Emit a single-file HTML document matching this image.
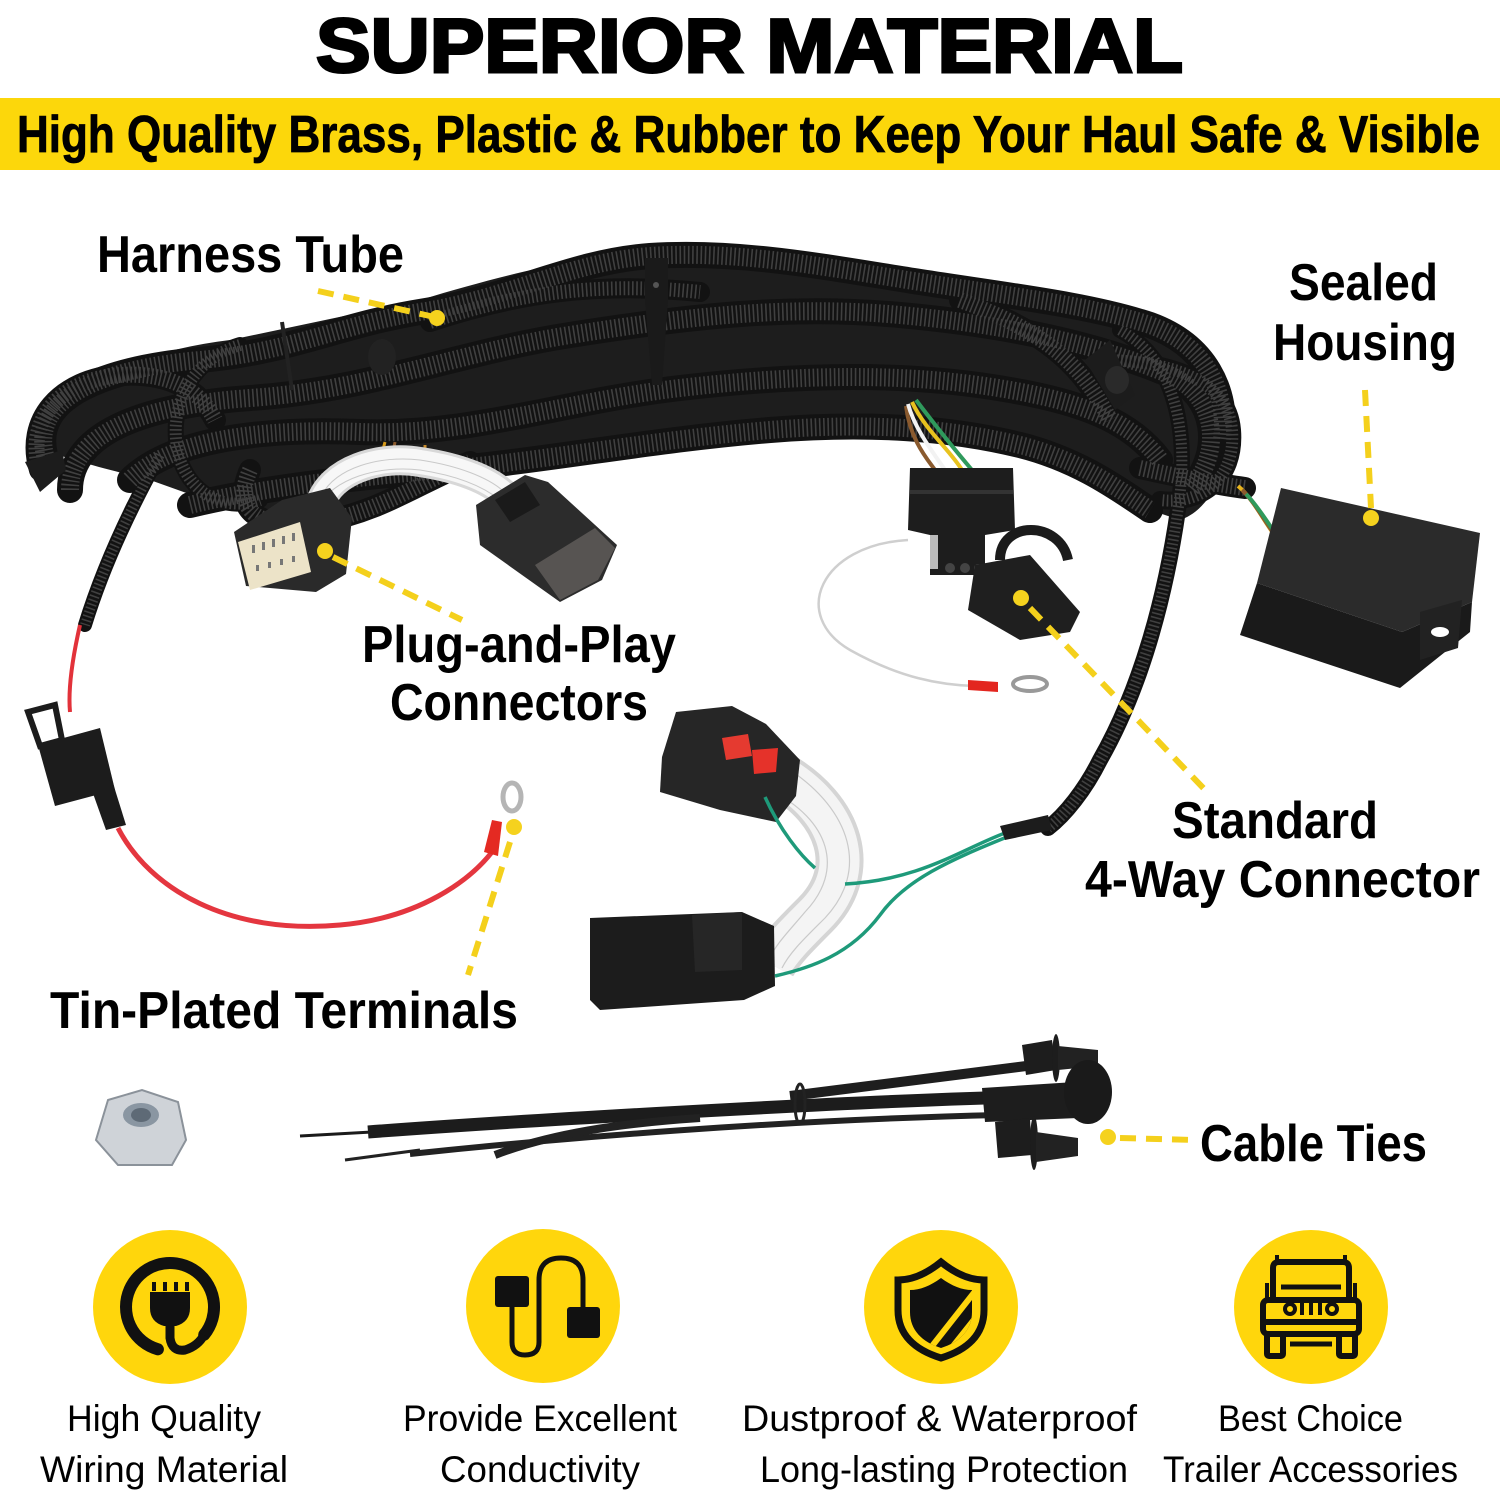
<!DOCTYPE html>
<html><head><meta charset="utf-8">
<style>
html,body{margin:0;padding:0;background:#fff;}
svg{display:block;}
.lbl{font-family:"Liberation Sans",sans-serif;font-weight:bold;fill:#000;}
.bt{font-family:"Liberation Sans",sans-serif;font-weight:normal;fill:#000;}
</style></head>
<body>
<svg width="1500" height="1500" viewBox="0 0 1500 1500" xmlns="http://www.w3.org/2000/svg">
<defs>
<path id="p1" d="M 45 455 C 30 395, 110 368, 200 360 C 290 352, 340 325, 420 312 C 510 298, 570 262, 650 256 C 740 250, 830 268, 920 282 C 1010 296, 1090 305, 1150 325 C 1205 345, 1228 390, 1222 440"/>
<path id="p2" d="M 70 490 C 70 430, 150 405, 250 398 C 370 390, 460 352, 570 335 C 690 316, 790 305, 900 315 C 1010 325, 1100 345, 1170 375 C 1215 395, 1225 450, 1190 490"/>
<path id="p3" d="M 130 480 C 170 440, 260 428, 360 432 C 470 436, 560 402, 680 388 C 800 374, 910 372, 1010 390 C 1080 402, 1130 420, 1160 460"/>
<path id="p4" d="M 190 505 C 260 488, 350 478, 440 470 C 550 460, 650 440, 770 430 C 870 422, 950 428, 1020 445 C 1080 460, 1120 490, 1150 510"/>
<path id="p5" d="M 250 470 C 230 515, 265 530, 320 522 C 380 512, 420 482, 470 462"/>
<path id="p6" d="M 240 345 C 190 360, 165 410, 180 460 C 195 500, 230 510, 260 500"/>
<path id="p7" d="M 160 455 C 135 500, 105 560, 85 625"/>
<path id="p8" d="M 1120 330 C 1175 360, 1190 430, 1178 510 C 1165 600, 1140 690, 1100 760 C 1085 790, 1065 815, 1048 828"/>
<path id="p9" d="M 1100 360 C 1170 360, 1228 380, 1232 430 C 1236 480, 1200 505, 1160 500"/>
<path id="p10" d="M 1140 468 C 1185 478, 1215 484, 1245 488"/>
<path id="p11" d="M 40 470 C 25 420, 60 380, 120 375 C 170 372, 200 390, 215 420"/>
<path id="p12" d="M 430 322 C 520 292, 600 282, 700 292"/>
<path id="p13" d="M 960 300 C 1040 330, 1080 360, 1110 420"/>
</defs>

<!-- Title -->
<text x="316" y="72" class="lbl" font-size="76" font-weight="900" stroke="#000" stroke-width="3" textLength="867" lengthAdjust="spacingAndGlyphs">SUPERIOR MATERIAL</text>
<rect x="0" y="98" width="1500" height="72" fill="#FCD70B"/>
<text x="17" y="152" class="lbl" font-size="52" stroke="#000" stroke-width="0.8" textLength="1463" lengthAdjust="spacingAndGlyphs">High Quality Brass, Plastic &amp; Rubber to Keep Your Haul Safe &amp; Visible</text>

<!-- Harness base mass -->
<path d="M 40 420 C 60 380 150 350 230 340 L 420 300 C 520 270 600 252 660 252 C 760 252 860 270 960 290 L 1120 318 C 1190 335 1225 370 1228 420 C 1230 470 1210 510 1180 520 L 1120 500 C 1080 470 1040 440 1000 435 L 880 420 C 800 425 720 430 640 440 C 560 450 480 452 420 480 L 340 520 C 300 525 260 520 220 505 L 150 480 C 110 470 70 460 45 450 Z" fill="#1d1d1d"/>

<!-- tubes base -->
<g fill="none" stroke="#121212" stroke-linecap="round">
<use href="#p11" stroke-width="22"/>
<use href="#p1" stroke-width="26"/>
<use href="#p2" stroke-width="26"/>
<use href="#p3" stroke-width="26"/>
<use href="#p4" stroke-width="26"/>
<use href="#p12" stroke-width="20"/>
<use href="#p13" stroke-width="22"/>
<use href="#p5" stroke-width="22"/>
<use href="#p6" stroke-width="16"/>
<use href="#p7" stroke-width="14"/>
<use href="#p9" stroke-width="18"/>
<use href="#p10" stroke-width="22"/>
<use href="#p8" stroke-width="16"/>
</g>
<!-- ribs -->
<g fill="none" stroke="#404040" stroke-dasharray="1.6 2.6">
<use href="#p11" stroke-width="16"/>
<use href="#p1" stroke-width="18"/>
<use href="#p2" stroke-width="18"/>
<use href="#p3" stroke-width="18"/>
<use href="#p4" stroke-width="18"/>
<use href="#p12" stroke-width="14"/>
<use href="#p13" stroke-width="16"/>
<use href="#p5" stroke-width="16"/>
<use href="#p6" stroke-width="12"/>
<use href="#p7" stroke-width="10"/>
<use href="#p9" stroke-width="12"/>
<use href="#p10" stroke-width="16"/>
<use href="#p8" stroke-width="11"/>
</g>

<!-- clips/straps on harness -->
<path d="M 645 258 L 668 258 L 668 300 L 662 385 L 652 385 L 645 300 Z" fill="#1a1a1a"/>
<circle cx="656" cy="285" r="3" fill="#555"/>
<ellipse cx="382" cy="357" rx="14" ry="18" fill="#222"/>
<path d="M 282 322 L 292 390" stroke="#222" stroke-width="4"/>
<path d="M 25 462 L 62 450 L 66 470 L 40 492 Z" fill="#1c1c1c"/>
<path d="M 1085 360 L 1110 340 L 1135 395 L 1115 410 Z" fill="#1c1c1c"/>
<ellipse cx="1117" cy="380" rx="12" ry="14" fill="#2a2a2a"/>

<!-- colored wires near 4-way -->
<g fill="none" stroke-width="4">
<path d="M 906 406 C 910 440, 928 460, 935 470" stroke="#8a5a2e"/>
<path d="M 908 404 C 915 430, 935 455, 945 470" stroke="#f2f2f2"/>
<path d="M 912 402 C 925 430, 950 450, 962 470" stroke="#e8c21e"/>
<path d="M 916 400 C 935 425, 955 450, 972 470" stroke="#2f9a5c"/>
</g>
<!-- wires to box -->
<g fill="none" stroke-width="4">
<path d="M 1238 486 C 1255 500, 1265 525, 1282 545" stroke="#e8b51e"/>
<path d="M 1242 490 C 1258 505, 1268 530, 1286 548" stroke="#8a5a2e"/>
<path d="M 1246 494 C 1262 510, 1272 533, 1290 550" stroke="#2f9a5c"/>
</g>
<!-- wires near left connector -->
<g fill="none" stroke-width="3">
<path d="M 385 442 L 378 468" stroke="#d69a1a"/>
<path d="M 395 442 L 390 468" stroke="#8a5a2e"/>
<path d="M 425 445 L 425 468" stroke="#c88a2a"/>
</g>
<!-- white wires arch -->
<path d="M 320 505 C 330 470, 380 455, 420 462 C 460 468, 490 480, 505 495" fill="none" stroke="#d8d8d8" stroke-width="30"/>
<path d="M 320 505 C 330 470, 380 455, 420 462 C 460 468, 490 480, 505 495" fill="none" stroke="#f7f7f7" stroke-width="24"/>
<g fill="none" stroke="#c9c9c9" stroke-width="1">
<path d="M 322 495 C 335 468, 380 455, 420 460 C 460 466, 488 478, 502 490"/>
<path d="M 318 508 C 332 478, 380 465, 420 470 C 460 476, 485 488, 500 500"/>
</g>

<!-- left 12-pin connector -->
<path d="M 234 532 L 282 500 L 330 488 L 352 518 L 346 574 L 316 592 L 246 586 Z" fill="#2a2a2a"/>
<path d="M 238 542 L 300 522 L 311 572 L 250 590 Z" fill="#ece3c8"/>
<g fill="#777">
<rect x="252" y="545" width="3" height="8"/><rect x="262" y="542" width="3" height="8"/><rect x="272" y="539" width="3" height="8"/><rect x="282" y="536" width="3" height="8"/><rect x="292" y="533" width="3" height="8"/>
<rect x="256" y="565" width="3" height="6"/><rect x="268" y="562" width="3" height="6"/><rect x="280" y="559" width="3" height="6"/><rect x="292" y="556" width="3" height="6"/>
</g>
<!-- plug -->
<path d="M 476 505 L 525 475 L 548 482 L 617 545 L 602 580 L 560 602 L 480 545 Z" fill="#2c2c2c"/>
<path d="M 535 565 L 595 528 L 615 548 L 598 580 L 560 600 Z" fill="#575452"/>
<path d="M 495 500 L 525 482 L 540 505 L 510 522 Z" fill="#1a1a1a"/>

<!-- 4-way plug -->
<path d="M 910 468 L 1013 468 L 1015 530 L 985 535 L 985 575 L 930 575 L 930 535 L 908 530 Z" fill="#1d1d1d"/>
<rect x="910" y="490" width="103" height="4" fill="#333"/>
<rect x="930" y="535" width="8" height="34" fill="#bbb"/>
<circle cx="950" cy="568" r="5" fill="#444"/><circle cx="965" cy="568" r="5" fill="#444"/><circle cx="978" cy="568" r="4" fill="#444"/>
<path d="M 1000 560 C 1000 520, 1060 520, 1068 560" fill="none" stroke="#1b1b1b" stroke-width="10"/>
<path d="M 975 565 L 1030 555 L 1080 612 L 1070 632 L 1020 640 L 968 610 Z" fill="#1f1f1f"/>
<!-- white thin wire loop -->
<path d="M 908 540 C 820 545, 790 615, 850 650 C 900 678, 940 685, 975 686" fill="none" stroke="#cfcfcf" stroke-width="2.5"/>
<path d="M 968 680 L 998 682 L 998 692 L 968 690 Z" fill="#e3261f"/>
<ellipse cx="1030" cy="684" rx="17" ry="7" fill="none" stroke="#999" stroke-width="4"/>

<!-- Sealed housing box -->
<path d="M 1281 488 L 1480 533 L 1472 602 L 1402 632 L 1257 583 Z" fill="#2b2b2b"/>
<path d="M 1257 583 L 1402 632 L 1472 602 L 1470 632 L 1400 688 L 1240 635 Z" fill="#1a1a1a"/>
<path d="M 1420 612 L 1462 600 L 1458 648 L 1420 660 Z" fill="#222"/>
<ellipse cx="1440" cy="632" rx="9" ry="5" fill="#fff"/>

<!-- red wire and fuse holder -->
<path d="M 80 625 C 72 660, 68 690, 70 712" fill="none" stroke="#e2323a" stroke-width="4"/>
<path d="M 28 712 L 55 705 L 62 740 L 40 746 Z" fill="none" stroke="#1c1c1c" stroke-width="6"/>
<path d="M 38 745 L 100 728 L 115 790 L 55 806 Z" fill="#1c1c1c"/>
<path d="M 90 785 L 112 780 L 126 825 L 106 830 Z" fill="#1c1c1c"/>
<path d="M 118 828 C 150 890, 230 935, 340 925 C 420 918, 470 880, 492 852" fill="none" stroke="#e4363f" stroke-width="5"/>
<path d="M 484 852 L 492 820 L 502 822 L 498 856 Z" fill="#e42a22"/>
<ellipse cx="512" cy="797" rx="9" ry="14" fill="none" stroke="#b5b5b5" stroke-width="5"/>

<!-- lower connectors -->
<path d="M 780 775 C 840 810, 860 870, 815 915 C 795 935, 780 950, 772 965" fill="none" stroke="#d5d5d5" stroke-width="48"/>
<path d="M 780 775 C 840 810, 860 870, 815 915 C 795 935, 780 950, 772 965" fill="none" stroke="#f4f4f4" stroke-width="40"/>
<g fill="none" stroke="#cacaca" stroke-width="1.2">
<path d="M 770 790 C 830 820, 845 870, 805 912 C 790 930, 775 945, 770 958"/>
<path d="M 790 770 C 850 810, 870 870, 825 918 C 805 938, 790 952, 782 968"/>
</g>
<path d="M 662 757 L 676 712 L 732 706 L 766 724 L 800 760 L 796 796 L 776 822 L 720 810 L 660 792 Z" fill="#262626"/>
<path d="M 722 738 L 748 734 L 752 756 L 726 760 Z" fill="#e53a30"/>
<path d="M 752 750 L 778 748 L 776 772 L 754 774 Z" fill="#e5322a"/>
<path d="M 590 918 L 742 912 L 774 926 L 775 986 L 744 1000 L 600 1010 L 590 1000 Z" fill="#1c1c1c"/>
<path d="M 692 915 L 742 912 L 742 970 L 695 972 Z" fill="#262626"/>
<!-- green wires -->
<g fill="none" stroke="#1e9a7a" stroke-width="3.5">
<path d="M 765 797 C 780 830, 800 855, 815 868"/>
<path d="M 1005 833 C 960 850, 920 880, 845 884"/>
<path d="M 1007 837 C 950 860, 905 880, 880 915 C 850 955, 810 968, 775 976"/>
</g>
<path d="M 1000 826 L 1048 815 L 1052 830 L 1005 840 Z" fill="#1c1c1c"/>

<!-- nut -->
<path d="M 108 1100 L 142 1090 L 178 1102 L 186 1140 L 172 1165 L 118 1165 L 96 1140 Z" fill="#cfd3d8" stroke="#8b929a" stroke-width="2"/>
<ellipse cx="141" cy="1115" rx="18" ry="12" fill="#8a96a2"/>
<ellipse cx="141" cy="1115" rx="10" ry="7" fill="#5e6a76"/>

<!-- cable ties -->
<path d="M 300 1136 L 372 1132" stroke="#1a1a1a" stroke-width="3"/>
<path d="M 368 1132 C 500 1122, 800 1104, 985 1098" fill="none" stroke="#1c1c1c" stroke-width="13"/>
<path d="M 790 1096 L 1042 1064" stroke="#1e1e1e" stroke-width="10"/>
<path d="M 410 1154 C 560 1138, 780 1120, 1000 1115" fill="none" stroke="#222" stroke-width="6"/>
<path d="M 345 1160 L 420 1150" stroke="#222" stroke-width="3"/>
<path d="M 495 1155 C 560 1130, 640 1122, 700 1118" fill="none" stroke="#222" stroke-width="8"/>
<ellipse cx="800" cy="1104" rx="5" ry="20" fill="none" stroke="#222" stroke-width="3"/>
<path d="M 982 1088 L 1075 1082 L 1078 1118 L 985 1122 Z" fill="#1d1d1d"/>
<path d="M 1022 1045 L 1052 1040 L 1056 1070 L 1026 1075 Z" fill="#1d1d1d"/>
<ellipse cx="1056" cy="1058" rx="4" ry="24" fill="#1d1d1d"/>
<path d="M 1058 1046 L 1098 1050 L 1098 1066 L 1058 1070 Z" fill="#222"/>
<ellipse cx="1088" cy="1092" rx="24" ry="32" fill="#1a1a1a"/>
<path d="M 995 1122 L 1030 1118 L 1032 1155 L 998 1158 Z" fill="#1d1d1d"/>
<ellipse cx="1034" cy="1143" rx="4" ry="27" fill="#1d1d1d"/>
<path d="M 1036 1132 L 1078 1138 L 1078 1156 L 1036 1162 Z" fill="#222"/>

<!-- dashed yellow pointers -->
<g stroke="#F4D01C" stroke-width="6" stroke-dasharray="16 10" fill="none">
<path d="M 318 291 L 430 316"/>
<path d="M 1365 390 L 1371 508"/>
<path d="M 333 557 L 462 620"/>
<path d="M 1030 608 L 1210 795"/>
<path d="M 510 842 L 468 975"/>
<path d="M 1120 1138 L 1195 1140"/>
</g>
<g fill="#F5D21E">
<circle cx="437" cy="318" r="8"/>
<circle cx="1371" cy="518" r="8"/>
<circle cx="325" cy="551" r="8"/>
<circle cx="1021" cy="598" r="8"/>
<circle cx="514" cy="827" r="8"/>
<circle cx="1108" cy="1137" r="8"/>
</g>

<!-- labels -->
<text x="97" y="272" class="lbl" font-size="52" textLength="307" lengthAdjust="spacingAndGlyphs">Harness Tube</text>
<text x="1289" y="300" class="lbl" font-size="52" textLength="149" lengthAdjust="spacingAndGlyphs">Sealed</text>
<text x="1273" y="360" class="lbl" font-size="52" textLength="184" lengthAdjust="spacingAndGlyphs">Housing</text>
<text x="362" y="662" class="lbl" font-size="52" textLength="314" lengthAdjust="spacingAndGlyphs">Plug-and-Play</text>
<text x="390" y="720" class="lbl" font-size="52" textLength="258" lengthAdjust="spacingAndGlyphs">Connectors</text>
<text x="1172" y="838" class="lbl" font-size="52" textLength="206" lengthAdjust="spacingAndGlyphs">Standard</text>
<text x="1085" y="897" class="lbl" font-size="52" textLength="395" lengthAdjust="spacingAndGlyphs">4-Way Connector</text>
<text x="50" y="1028" class="lbl" font-size="52" textLength="468" lengthAdjust="spacingAndGlyphs">Tin-Plated Terminals</text>
<text x="1200" y="1161" class="lbl" font-size="52" textLength="227" lengthAdjust="spacingAndGlyphs">Cable Ties</text>

<!-- icon circles -->
<g fill="#FFD60C">
<circle cx="170" cy="1307" r="77"/>
<circle cx="543" cy="1306" r="77"/>
<circle cx="941" cy="1307" r="77"/>
<circle cx="1311" cy="1307" r="77"/>
</g>

<!-- icon 1: plug -->
<path d="M 157.9 1349.3 A 44 44 0 1 1 204.2 1334.7" fill="none" stroke="#111" stroke-width="12" stroke-linecap="round"/>
<path d="M 150 1292 L 190 1292 L 190 1308 Q 190 1322 176 1326 L 164 1326 Q 150 1322 150 1308 Z" fill="#111"/>
<g fill="#111"><rect x="152" y="1282" width="4" height="9"/><rect x="163" y="1282" width="4" height="9"/><rect x="174" y="1282" width="4" height="9"/><rect x="185" y="1282" width="4" height="9"/></g>
<path d="M 170 1322 L 170 1338 Q 172 1352 185 1350 Q 198 1346 204 1335" fill="none" stroke="#111" stroke-width="9"/>

<!-- icon 2: conductivity -->
<rect x="495" y="1276" width="34" height="31" rx="3" fill="#111"/>
<rect x="567" y="1307" width="33" height="31" rx="3" fill="#111"/>
<path d="M 512 1306 L 512 1342 Q 512 1355 525 1355 Q 539 1355 539 1342 L 539 1280 Q 539 1258 561 1258 Q 583 1258 583 1280 L 583 1308" fill="none" stroke="#111" stroke-width="5"/>

<!-- icon 3: shield -->
<path d="M 941 1262 C 925 1275, 910 1280, 898 1280 L 898 1310 C 898 1335, 915 1350, 941 1358 C 967 1350, 984 1335, 984 1310 L 984 1280 C 972 1280, 957 1275, 941 1262 Z" fill="none" stroke="#111" stroke-width="7"/>
<clipPath id="sh"><path d="M 941 1278 C 930 1286, 920 1290, 910 1290 L 910 1312 C 910 1330, 922 1342, 941 1348 C 960 1342, 972 1330, 972 1312 L 972 1290 C 962 1290, 952 1286, 941 1278 Z"/></clipPath>
<g clip-path="url(#sh)">
<rect x="905" y="1275" width="72" height="78" fill="#111"/>
<path d="M 980 1285 L 925 1355" stroke="#FFD60C" stroke-width="6"/>
<path d="M 992 1297 L 942 1360" stroke="#FFD60C" stroke-width="6"/>
</g>

<!-- icon 4: jeep -->
<g fill="none" stroke="#111" stroke-width="6" stroke-linejoin="round">
<path d="M 1273 1300 L 1273 1268 Q 1273 1262 1279 1262 L 1343 1262 Q 1349 1262 1349 1268 L 1349 1300"/>
<rect x="1263" y="1300" width="96" height="34" rx="5"/>
<rect x="1267" y="1334" width="16" height="22" rx="2"/>
<rect x="1339" y="1334" width="16" height="22" rx="2"/>
<path d="M 1263 1322 L 1359 1322"/>
<circle cx="1290" cy="1309" r="5" stroke-width="4"/>
<circle cx="1332" cy="1309" r="5" stroke-width="4"/>
</g>
<g stroke="#111">
<path d="M 1281 1287 L 1341 1287" stroke-width="5"/>
<path d="M 1302 1303 L 1302 1315 M 1311 1303 L 1311 1315 M 1320 1303 L 1320 1315" stroke-width="4"/>
<path d="M 1267 1283 L 1267 1298 M 1355 1283 L 1355 1298" stroke-width="4"/>
<path d="M 1277 1262 L 1277 1255 M 1345 1262 L 1345 1255" stroke-width="4"/>
<path d="M 1290 1344 L 1332 1344" stroke-width="5"/>
</g>

<!-- bottom texts -->
<text x="67" y="1431" class="bt" font-size="37" textLength="194" lengthAdjust="spacingAndGlyphs">High Quality</text>
<text x="40" y="1482" class="bt" font-size="37" textLength="248" lengthAdjust="spacingAndGlyphs">Wiring Material</text>
<text x="403" y="1431" class="bt" font-size="37" textLength="274" lengthAdjust="spacingAndGlyphs">Provide Excellent</text>
<text x="440" y="1482" class="bt" font-size="37" textLength="200" lengthAdjust="spacingAndGlyphs">Conductivity</text>
<text x="742" y="1431" class="bt" font-size="37" textLength="395" lengthAdjust="spacingAndGlyphs">Dustproof &amp; Waterproof</text>
<text x="760" y="1482" class="bt" font-size="37" textLength="368" lengthAdjust="spacingAndGlyphs">Long-lasting Protection</text>
<text x="1218" y="1431" class="bt" font-size="37" textLength="185" lengthAdjust="spacingAndGlyphs">Best Choice</text>
<text x="1163" y="1482" class="bt" font-size="37" textLength="295" lengthAdjust="spacingAndGlyphs">Trailer Accessories</text>
</svg>
</body></html>
